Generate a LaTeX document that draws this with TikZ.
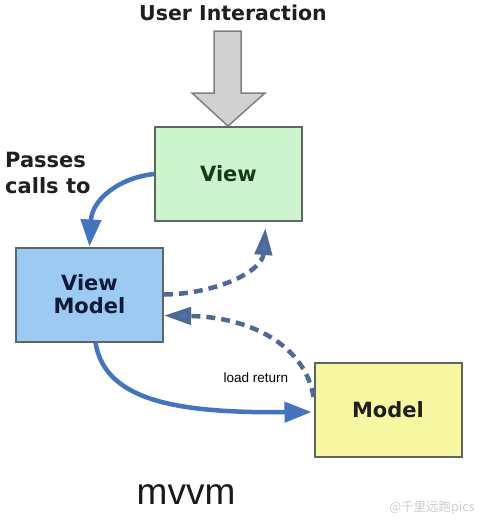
\documentclass[tikz,border=0pt]{standalone}
\usepackage{fontspec}
\setmainfont{DejaVu Sans}
\newfontfamily\boldsans{DejaVu Sans}
\newfontfamily\thinsans{Liberation Sans}
\newfontfamily\cjkfont{Noto Sans CJK SC}
\usetikzlibrary{arrows.meta}
\definecolor{viewfill}{HTML}{CDF5CD}
\definecolor{viewtext}{HTML}{173A1A}
\definecolor{vmfill}{HTML}{9DCAF3}
\definecolor{vmtext}{HTML}{0E1A36}
\definecolor{modelfill}{HTML}{F7F7A2}
\definecolor{arrowblue}{HTML}{4474BE}
\definecolor{dashblue}{HTML}{4E6A94}
\definecolor{boxline}{HTML}{5F665F}
\tikzset{
  box/.style={draw=boxline, line width=2pt, minimum width=147pt, minimum height=94pt, inner sep=0pt,
    align=center, font=\boldsans\bfseries\fontsize{21}{23}\selectfont},
  solidarrow/.style={draw=arrowblue, line width=4.5pt, -{Triangle[length=27pt,width=20pt]}},
  dasharrow/.style={draw=dashblue, line width=4.5pt, dash pattern=on 9pt off 6pt,
    -{Triangle[length=27pt,width=17pt,fill=arrowblue]}},
  label/.style={font=\boldsans\bfseries\fontsize{21}{26}\selectfont, text=black!88, inner sep=0pt}
}
\begin{document}
\begin{tikzpicture}[x=1pt,y=-1pt]
\useasboundingbox (0,0) rectangle (478,523);
\fill[white] (0,0) rectangle (478,523);

\node[label, font=\boldsans\bfseries\fontsize{20.5}{24}\selectfont] (ui) at (233,13) {User Interaction};

\draw[draw=black!50, fill=black!18, line width=1.5pt, line join=miter]
  (214,31) -- (241,31) -- (241,93) -- (265,93) -- (228,126) -- (192,93) -- (214,93) -- cycle;

\node[box, fill=viewfill, text=viewtext] (view) at (228.5,174) {View};
\node[box, fill=vmfill, text=vmtext] (vm) at (89.5,294.5) {View\\Model};
\node[box, fill=modelfill, text=black!88] (model) at (388,410) {Model};

\node[label, anchor=west, align=left] (passes) at (5,173) {Passes\\calls to};

\draw[solidarrow] (view.west) .. controls (118,178) and (92,200) .. (vm.north);
\draw[dasharrow] (vm.east) .. controls (215,294) and (262,272) .. ([xshift=37pt,yshift=-6pt]view.south);
\draw[dasharrow] ([yshift=13pt]model.west) .. controls (305,345) and (250,317) .. ([yshift=-21pt]vm.east);
\draw[solidarrow] ([xshift=6pt]vm.south) .. controls (105,402) and (180,413) .. ([xshift=-2pt,yshift=-2pt]model.west);

\node[font=\thinsans\fontsize{13.5}{15}\selectfont, inner sep=0pt] (load) at (256,378) {load return};

\node[font=\thinsans\fontsize{37}{40}\selectfont, text=black!90, inner sep=0pt] (mvvm) at (186,495) {mvvm};

\node[font=\cjkfont\fontsize{12.5}{14}\selectfont, text=black!20, inner sep=0pt] (wm) at (432,508) {@千里远跑pics};
\end{tikzpicture}
\end{document}
